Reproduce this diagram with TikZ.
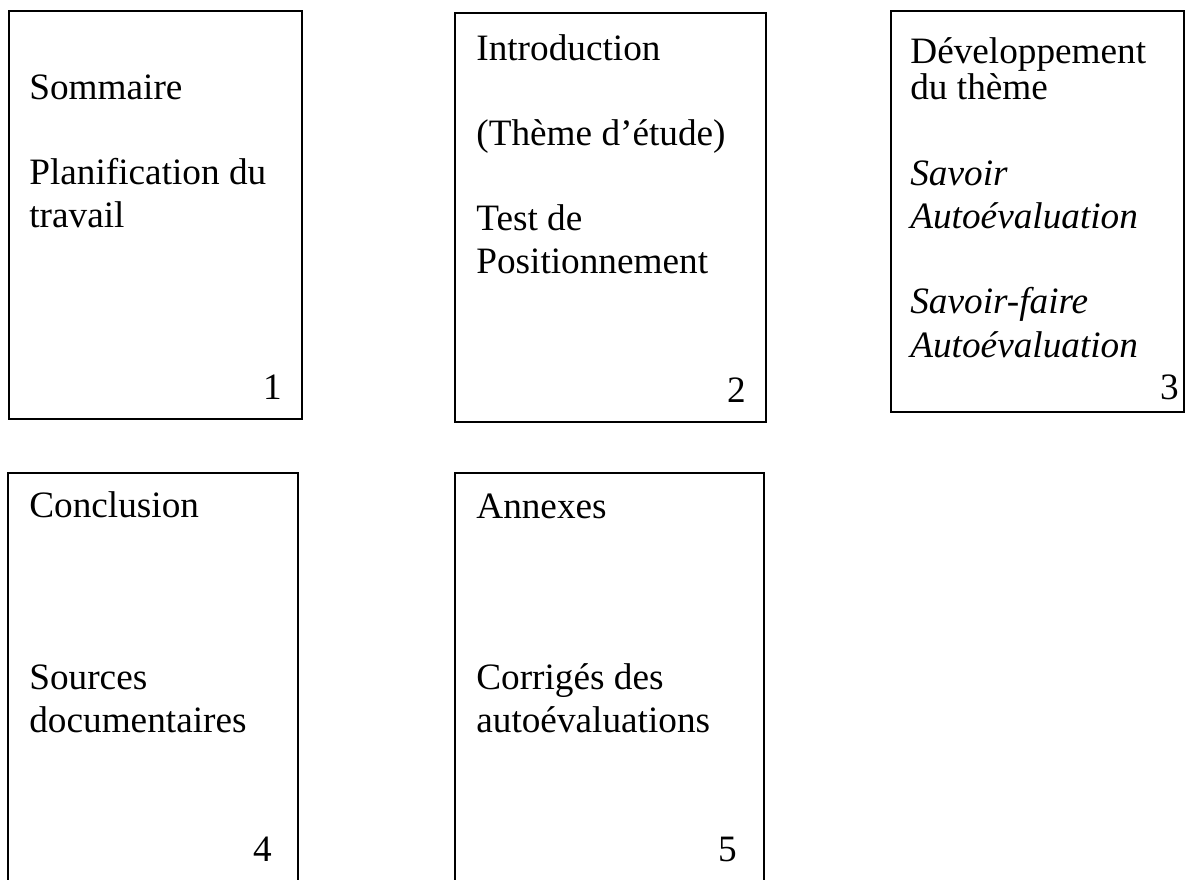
\documentclass[tikz,border=0pt]{standalone}
\usepackage{fontspec}
\setmainfont{Liberation Serif}
\usepackage{tikz}

\tikzset{
	pagebox/.style={shape=rectangle, draw, line width=1.1pt, inner sep=0},
	pagetxt/.style={anchor=base west, inner sep=0, font=\fontsize{21.2pt}{25pt}\selectfont},
	pagenum/.style={anchor=base east, inner sep=0, font=\fontsize{21.2pt}{25pt}\selectfont}
}

\begin{document}
\begin{tikzpicture}[x=0.02cm, y=-0.02cm]
	\useasboundingbox (0, 0) rectangle (1186, 879);
	\clip (0, 0) rectangle (1186, 879);
	% Pages and texts:
	\node[pagebox, minimum width=5.86cm, minimum height=8.16cm](Rect1) at (155.5, 215){};
	\node[pagetxt](T1a) at (29, 99){Sommaire};
	\node[pagetxt](T1b) at (29, 184){Planification du};
	\node[pagetxt](T1c) at (29, 227){travail};
	\node[pagenum](N1) at (282, 399){1};
	\node[pagebox, minimum width=6.22cm, minimum height=8.18cm](Rect2) at (610.5, 217.5){};
	\node[pagetxt](T2a) at (476, 60){Introduction};
	\node[pagetxt](T2b) at (476, 145){(Thème d’étude)};
	\node[pagetxt](T2c) at (476, 230){Test de};
	\node[pagetxt](T2d) at (476, 273){Positionnement};
	\node[pagenum](N2) at (746, 402){2};
	\node[pagebox, minimum width=5.86cm, minimum height=8.02cm](Rect3) at (1037.5, 211.5){};
	\node[pagetxt](T3a) at (910, 63){Développement};
	\node[pagetxt](T3b) at (910, 99){du thème};
	\node[pagetxt, font=\fontsize{21.2pt}{25pt}\selectfont\itshape](T3c) at (910, 185){Savoir};
	\node[pagetxt, font=\fontsize{21.2pt}{25pt}\selectfont\itshape](T3d) at (910, 228){Autoévaluation};
	\node[pagetxt, font=\fontsize{21.2pt}{25pt}\selectfont\itshape](T3e) at (910, 313){Savoir-faire};
	\node[pagetxt, font=\fontsize{21.2pt}{25pt}\selectfont\itshape](T3f) at (910, 357){Autoévaluation};
	\node[pagenum](N3) at (1179, 399){3};
	\node[pagebox, minimum width=5.8cm, minimum height=8.44cm](Rect4) at (153, 684){};
	\node[pagetxt](T4a) at (29, 517){Conclusion};
	\node[pagetxt](T4b) at (29, 689){Sources};
	\node[pagetxt](T4c) at (29, 732){documentaires};
	\node[pagenum](N4) at (272, 861){4};
	\node[pagebox, minimum width=6.18cm, minimum height=8.44cm](Rect5) at (609.5, 684){};
	\node[pagetxt](T5a) at (476, 518){Annexes};
	\node[pagetxt](T5b) at (476, 689){Corrigés des};
	\node[pagetxt](T5c) at (476, 732){autoévaluations};
	\node[pagenum](N5) at (737, 861){5};
\end{tikzpicture}
\end{document}
